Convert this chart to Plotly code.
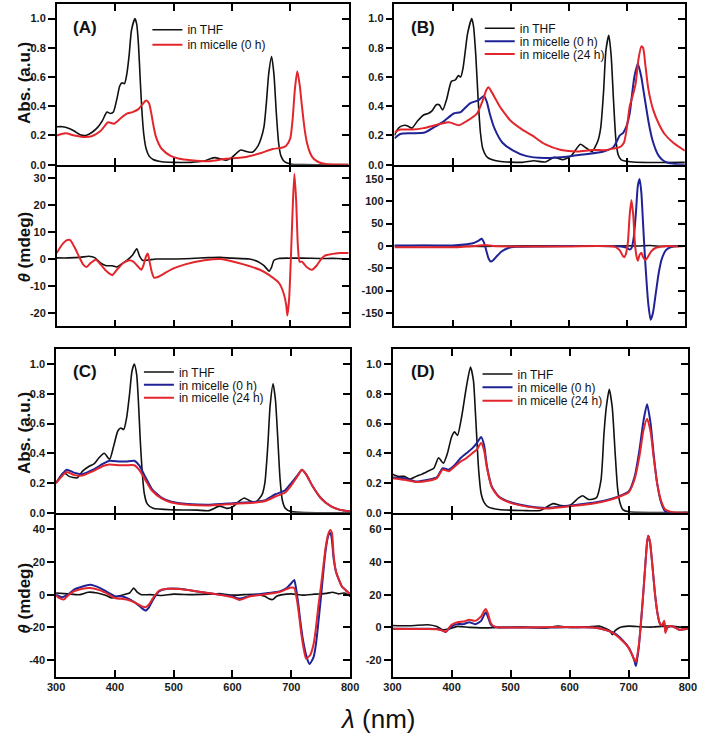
import plotly.graph_objects as go

W, H = 709, 744
BLACK = '#111111'
BLUE = '#1f2396'
RED = '#e3262b'
FONT = 'Liberation Sans, Arial, sans-serif'

# ---------------- data ----------------
wl_ticks = [300, 400, 500, 600, 700, 800]
wl_labels = ['300', '400', '500', '600', '700', '800']
abs_ticks = [0, 0.2, 0.4, 0.6, 0.8, 1.0]
abs_labels = ['0.0', '0.2', '0.4', '0.6', '0.8', '1.0']
A_cd_ticks = [-20, -10, 0, 10, 20, 30]
A_cd_labels = ['-20', '-10', '0', '10', '20', '30']
B_cd_ticks = [-150, -100, -50, 0, 50, 100, 150]
B_cd_labels = ['-150', '-100', '-50', '0', '50', '100', '150']
C_cd_ticks = [-40, -20, 0, 20, 40]
C_cd_labels = ['-40', '-20', '0', '20', '40']
D_cd_ticks = [-20, 0, 20, 40, 60]
D_cd_labels = ['-20', '0', '20', '40', '60']

# Panel A - absorbance
A_abs_thf_wl = [300, 310, 320, 330, 340, 350, 360, 370, 378, 386, 392, 397, 403, 408, 412, 416, 420, 424, 428, 434,
                437, 440, 443, 446, 449, 453, 458, 465, 480, 500, 530, 550, 570, 580, 590, 600, 615, 625, 635, 645,
                650, 655, 659, 663, 668, 672, 676, 680, 684, 690, 700, 720, 800]
A_abs_thf = [0.26, 0.26, 0.25, 0.23, 0.205, 0.20, 0.22, 0.255, 0.30, 0.36, 0.35, 0.36, 0.45, 0.54, 0.56, 0.555,
             0.62, 0.75, 0.92, 1.0, 0.96, 0.82, 0.58, 0.36, 0.21, 0.11, 0.06, 0.035, 0.02, 0.016, 0.016, 0.023,
             0.048, 0.04, 0.03, 0.05, 0.10, 0.09, 0.085, 0.13, 0.18, 0.26, 0.42, 0.62, 0.74, 0.62, 0.36, 0.15,
             0.06, 0.02, 0.005, 0.0, 0.0]
A_abs_m0_wl = [300, 315, 330, 345, 360, 375, 388, 398, 410, 420, 430, 440, 447, 453, 458, 462, 466, 470, 475, 480,
               495, 510, 530, 560, 590, 620, 650, 670, 685, 693, 700, 704, 708, 712, 716, 720, 724, 728, 734, 740,
               750, 760, 800]
A_abs_m0 = [0.20, 0.215, 0.20, 0.19, 0.195, 0.23, 0.29, 0.28, 0.32, 0.35, 0.36, 0.38, 0.415, 0.44, 0.42, 0.35,
            0.26, 0.19, 0.14, 0.107, 0.06, 0.04, 0.03, 0.023, 0.04, 0.05, 0.08, 0.107, 0.116, 0.13, 0.18, 0.31,
            0.52, 0.64, 0.55, 0.40, 0.26, 0.16, 0.08, 0.04, 0.015, 0.005, 0.0]

# Panel A - CD
A_cd_thf_wl = [300, 320, 340, 355, 365, 375, 385, 395, 403, 410, 420, 430, 437, 442, 447, 470, 500, 530, 560, 580,
               600, 630, 645, 655, 664, 668, 672, 680, 700, 720, 750, 780, 800]
A_cd_thf = [0.4, 0.4, 0.6, 1.0, 0.5, -1.5, -2.5, -2.5, -3.0, -2.0, -0.5, 1.5, 3.8, 1.0, -0.5, 0.0, 0.0, 0.2, 0.5,
            0.6, 0.3, 0.0, -1.0, -2.5, -4.5, -3.0, -0.5, 0.2, 0.3, 0.3, 0.2, 0.2, 0.0]
A_cd_m0_wl = [300, 308, 316, 323, 330, 338, 345, 351, 358, 367, 375, 385, 395, 403, 414, 425, 431, 438, 445, 449,
              453, 456, 459, 463, 467, 475, 487, 500, 520, 553, 581, 603, 620, 648, 664, 681, 689, 693, 695, 698,
              701, 704, 707, 710, 713, 716, 720, 728, 737, 745, 753, 760, 770, 785, 800]
A_cd_m0 = [2.2, 5.0, 6.8, 7.0, 4.5, 1.0, -2.0, -3.0, -1.5, -0.3, -2.0, -4.5, -6.0, -4.0, -1.5, -0.5, -1.0, -2.5,
           -4.0, -2.0, 1.0, 2.0, -1.0, -5.0, -7.0, -6.5, -5.0, -3.5, -2.0, -0.5, 0.0, -1.0, -2.0, -4.0, -6.0,
           -9.0, -13.0, -17.0, -21.0, -15.0, 0.0, 18.0, 31.6, 22.0, 5.0, -1.0, -1.0, -3.0, -4.0, -2.5, 0.0, 1.3,
           1.8, 2.2, 2.2]

# Panel B - absorbance
B_abs_thf_wl = [300, 305, 310, 318, 325, 330, 340, 350, 358, 365, 372, 377, 383, 390, 398, 405, 410, 414, 418, 422,
                426, 433, 436, 440, 444, 448, 452, 460, 480, 520, 540, 560, 575, 590, 605, 620, 630, 640, 650, 655,
                660, 664, 669, 673, 677, 681, 685, 690, 710, 800]
B_abs_thf = [0.20, 0.24, 0.26, 0.27, 0.26, 0.25, 0.30, 0.34, 0.35, 0.37, 0.41, 0.41, 0.375, 0.45, 0.57, 0.58, 0.61,
             0.60, 0.66, 0.78, 0.90, 1.0, 0.95, 0.75, 0.45, 0.22, 0.11, 0.05, 0.023, 0.016, 0.027, 0.018, 0.05,
             0.034, 0.064, 0.14, 0.114, 0.09, 0.16, 0.25, 0.50, 0.78, 0.886, 0.75, 0.45, 0.18, 0.07, 0.035, 0.018,
             0.016]
B_abs_m0_wl = [300, 310, 330, 352, 370, 386, 402, 414, 430, 444, 454, 459, 464, 472, 486, 503, 526, 559, 587, 626,
               660, 677, 688, 694, 700, 705, 709, 713, 719, 725, 729, 733, 738, 744, 750, 755, 762, 769, 783, 800]
B_abs_m0 = [0.18, 0.21, 0.215, 0.22, 0.26, 0.30, 0.35, 0.36, 0.42, 0.44, 0.47, 0.43, 0.35, 0.25, 0.15, 0.10, 0.06,
            0.045, 0.05, 0.07, 0.09, 0.12, 0.20, 0.22, 0.27, 0.35, 0.48, 0.60, 0.69, 0.60, 0.50, 0.40, 0.28, 0.17,
            0.10, 0.06, 0.03, 0.015, 0.005, 0.0]
B_abs_m24_wl = [300, 310, 330, 350, 370, 380, 394, 411, 425, 442, 452, 458, 462, 467, 474, 481, 490, 500, 520, 537,
                559, 587, 615, 640, 665, 677, 688, 695, 700, 705, 710, 715, 720, 725, 728, 732, 737, 745, 755, 765,
                780, 800]
B_abs_m24 = [0.22, 0.24, 0.24, 0.25, 0.27, 0.28, 0.29, 0.27, 0.30, 0.35, 0.44, 0.51, 0.53, 0.50, 0.45, 0.40, 0.35,
             0.30, 0.24, 0.20, 0.14, 0.10, 0.09, 0.10, 0.10, 0.11, 0.12, 0.15, 0.25, 0.40, 0.47, 0.55, 0.72, 0.81,
             0.80, 0.68, 0.52, 0.38, 0.28, 0.21, 0.15, 0.095]

# Panel B - CD
B_cd_thf_wl = [300, 350, 400, 450, 500, 550, 600, 650, 700, 720, 740, 760, 780, 800]
B_cd_thf = [0, 1, 0, -1, 0, 0.5, 0, -0.5, 0.5, 0, 1, -1, 0, 0]
B_cd_m0_wl = [300, 350, 400, 420, 435, 445, 450, 454, 458, 462, 466, 470, 477, 485, 495, 510, 550, 650, 690, 700,
              705, 708, 712, 716, 719, 722, 725, 728, 731, 734, 737, 741, 745, 750, 755, 760, 767, 775, 790, 800]
B_cd_m0 = [1, 1, 1, 3, 6, 12, 16, 8, -10, -28, -35, -32, -22, -12, -5, -2, -1, 0, -1, -4, -8, -5, 20, 80, 135,
           150, 120, 50, -20, -80, -130, -165, -150, -105, -60, -30, -10, -3, 0, 0]
B_cd_m24_wl = [300, 350, 400, 440, 455, 470, 500, 600, 680, 688, 693, 696, 699, 702, 705, 708, 711, 714, 717, 719,
               722, 725, 728, 732, 736, 742, 750, 760, 770, 785, 800]
B_cd_m24 = [-3, -3, -3, 0, 2, 0, -1, -1, -2, -10, -22, -25, -15, 10, 70, 103, 70, 5, -25, -33, -20, -15, -25, -32,
            -25, -12, -4, -1, 0, -1, 0]

# Panel C - absorbance
C_abs_thf_wl = [300, 310, 314, 322, 336, 345, 355, 365, 373, 382, 391, 398, 405, 410, 415, 420, 425, 429, 433, 437,
                440, 443, 446, 450, 455, 465, 500, 540, 560, 578, 590, 600, 612, 620, 630, 640, 650, 655, 660, 664,
                669, 673, 677, 681, 685, 690, 700, 800]
C_abs_thf = [0.20, 0.26, 0.27, 0.245, 0.235, 0.28, 0.31, 0.33, 0.37, 0.40, 0.36, 0.45, 0.55, 0.57, 0.56, 0.64,
             0.80, 0.95, 1.0, 0.93, 0.75, 0.50, 0.30, 0.13, 0.06, 0.03, 0.02, 0.018, 0.015, 0.045, 0.03, 0.04,
             0.08, 0.10, 0.08, 0.075, 0.12, 0.20, 0.45, 0.72, 0.867, 0.76, 0.50, 0.22, 0.08, 0.03, 0.008, 0.0]
C_abs_m0_wl = [300, 318, 330, 344, 363, 380, 391, 408, 419, 433, 441, 452, 463, 480, 496, 524, 562, 601, 640, 656,
               673, 689, 700, 712, 718, 725, 736, 750, 767, 783, 800]
C_abs_m0 = [0.20, 0.29, 0.27, 0.26, 0.29, 0.33, 0.35, 0.345, 0.345, 0.35, 0.32, 0.24, 0.16, 0.10, 0.075, 0.06,
            0.055, 0.065, 0.075, 0.085, 0.125, 0.15, 0.20, 0.26, 0.29, 0.26, 0.18, 0.10, 0.045, 0.02, 0.01]
C_abs_m24_wl = [300, 318, 330, 344, 363, 380, 391, 408, 419, 433, 441, 452, 463, 480, 496, 524, 562, 601, 640, 656,
                673, 689, 700, 712, 718, 725, 736, 750, 767, 783, 800]
C_abs_m24 = [0.20, 0.275, 0.255, 0.25, 0.28, 0.315, 0.325, 0.32, 0.32, 0.32, 0.29, 0.22, 0.15, 0.095, 0.07, 0.055,
             0.05, 0.06, 0.07, 0.08, 0.11, 0.135, 0.185, 0.255, 0.29, 0.26, 0.18, 0.10, 0.045, 0.02, 0.01]

# Panel C - CD
C_cd_thf_wl = [300, 320, 340, 355, 370, 385, 395, 405, 415, 425, 432, 438, 445, 460, 480, 500, 530, 560, 580, 600,
               620, 640, 655, 662, 668, 675, 685, 700, 720, 740, 760, 770, 780, 790, 800]
C_cd_thf = [1, 0.5, 0, 1.5, 1, -0.5, -2, -1, 0, 1, 4, 1.5, 0, 0, -0.5, 0.3, 0, 0.3, 0.6, -0.3, 0, 0.2, -1, -2.5,
            -3, -1, 0, 0.5, -0.3, 0.3, 0.8, 1.5, 0.5, 1, -1]
C_cd_m0_wl = [300, 310, 320, 330, 345, 358, 375, 390, 400, 410, 420, 435, 445, 452, 458, 465, 475, 490, 510, 540,
              570, 600, 612, 630, 660, 680, 692, 700, 705, 708, 712, 716, 720, 726, 731, 738, 742, 746, 750, 754,
              758, 762, 765, 768, 772, 776, 780, 786, 792, 800]
C_cd_m0 = [0, -1.6, 0, 3, 5, 6, 4, 1, -1, -1, -2, -5, -8, -9.7, -7.7, -3, 2, 3.6, 3.6, 2, 0.4, -1, -2.4, -0.6, 1,
           2, 4, 7, 9, 4, -6, -18, -28, -38, -42.4, -38, -30, -17, -3, 12, 26, 35, 38, 36, 22, 14, 10, 5, 3, 0]
C_cd_m24_wl = [300, 305, 313, 320, 330, 345, 358, 375, 390, 400, 420, 435, 445, 452, 458, 465, 475, 490, 510, 540,
               570, 600, 612, 630, 660, 680, 692, 700, 705, 709, 713, 717, 721, 725, 729, 732, 738, 742, 746, 750,
               754, 758, 762, 766, 769, 772, 776, 780, 786, 792, 800]
C_cd_m24 = [-0.4, -2, -3, -0.6, 2, 3.6, 4, 2.6, 0, -2, -3, -5, -7, -7.7, -6, -2, 2.4, 3.6, 3.4, 2, 0.4, -1.6,
            -3.2, -1, 0.4, 1.6, 3.4, 4.4, 4, -2, -12, -24, -33, -39, -38, -37, -30, -20, -7, 4, 16, 28, 36, 39.5,
            38, 24, 14, 10, 5, 3, 0]

# Panel D - absorbance
D_abs_thf_wl = [300, 310, 320, 330, 340, 350, 360, 370, 378, 386, 393, 400, 405, 410, 417, 425, 432, 437, 440, 443,
                446, 450, 455, 462, 480, 520, 550, 572, 585, 600, 615, 622, 632, 645, 653, 658, 662, 667, 672, 677,
                681, 685, 690, 700, 800]
D_abs_thf = [0.26, 0.245, 0.245, 0.227, 0.245, 0.26, 0.28, 0.30, 0.37, 0.333, 0.40, 0.51, 0.544, 0.52, 0.644,
             0.844, 0.98, 0.89, 0.70, 0.48, 0.28, 0.13, 0.07, 0.04, 0.022, 0.016, 0.016, 0.062, 0.049, 0.049, 0.10,
             0.115, 0.09, 0.10, 0.22, 0.53, 0.71, 0.83, 0.71, 0.40, 0.17, 0.07, 0.022, 0.007, 0.004]
D_abs_m0_wl = [300, 320, 340, 360, 375, 385, 395, 405, 415, 425, 435, 443, 450, 455, 460, 468, 480, 500, 530, 560,
               600, 640, 670, 690, 700, 710, 718, 725, 731, 737, 742, 748, 755, 762, 770, 800]
D_abs_m0 = [0.238, 0.233, 0.21, 0.222, 0.238, 0.30, 0.29, 0.32, 0.367, 0.40, 0.433, 0.47, 0.51, 0.456, 0.31,
            0.178, 0.11, 0.071, 0.044, 0.033, 0.049, 0.067, 0.093, 0.122, 0.144, 0.244, 0.42, 0.62, 0.73, 0.60,
            0.40, 0.20, 0.067, 0.009, 0.0, 0.0]
D_abs_m24_wl = [300, 320, 340, 360, 375, 385, 395, 405, 415, 425, 435, 443, 450, 455, 460, 468, 480, 500, 530, 560,
                600, 640, 670, 690, 700, 710, 718, 725, 731, 737, 742, 748, 755, 762, 775, 800]
D_abs_m24 = [0.233, 0.222, 0.207, 0.215, 0.233, 0.29, 0.28, 0.31, 0.344, 0.367, 0.40, 0.427, 0.47, 0.42, 0.30,
             0.173, 0.107, 0.067, 0.04, 0.029, 0.044, 0.062, 0.089, 0.118, 0.138, 0.227, 0.378, 0.556, 0.633,
             0.544, 0.378, 0.20, 0.078, 0.022, 0.004, 0.0]

# Panel D - CD
D_cd_thf_wl = [300, 330, 360, 375, 385, 395, 410, 430, 450, 480, 520, 560, 580, 600, 630, 650, 660, 668, 672, 677,
               685, 700, 720, 740, 760, 780, 800]
D_cd_thf = [1.2, 1, 1.6, 0.5, -1.4, -1, 0.6, 0, -0.3, 0, 0.2, -0.3, 0.8, 0, 0.3, 0.8, -0.5, -2, -4.4, -2, 0, 0.8,
            0.4, 0.2, 0.8, 0.5, -0.5]
D_cd_m0_wl = [300, 330, 360, 375, 385, 390, 395, 400, 410, 420, 430, 440, 450, 455, 458, 462, 466, 470, 480, 520,
              580, 640, 660, 675, 690, 700, 706, 710, 712, 714, 717, 720, 724, 728, 731, 733, 736, 740, 744, 748,
              752, 756, 760, 762, 766, 775, 785, 800]
D_cd_m0 = [-0.8, -0.8, -0.8, -1, -2, -2.8, -1, 0.6, 2, 2, 3.2, 2, 4, 7.5, 9.3, 6, 2, 0.6, 0, 0, 0, 0, -1.4, -3.4,
           -8, -12.5, -17, -21, -23.6, -20, -12, 0, 18, 38, 52, 56, 52, 38, 22, 10, 3, 1, 3, -2, 0, 0.6, -1.4,
           -0.8]
D_cd_m24_wl = [300, 330, 360, 375, 385, 390, 395, 400, 410, 420, 430, 440, 450, 455, 458, 462, 466, 470, 480, 520,
               580, 640, 660, 675, 690, 700, 706, 710, 712, 714, 717, 720, 724, 728, 731, 733, 736, 740, 744, 748,
               752, 756, 760, 762, 766, 775, 785, 800]
D_cd_m24 = [-0.8, -1, -1, -1.2, -2, -2.8, -0.5, 1.6, 3.2, 3.6, 4.6, 4, 6.7, 10, 11.3, 8, 3, 1, 0, 0, 0.3, 0, -1.4,
            -3.8, -8.5, -12.5, -17, -20, -21, -18, -11, 0, 18, 38, 52, 56, 52, 38, 22, 10, 3, 1.2, 4, -3.4, 0.5,
            0.6, -1.4, -0.5]

series_names = ['in THF', 'in micelle (0 h)', 'in micelle (24 h)']

# ---------------- layout geometry (pixels) ----------------
def xdom(a, b):
    return [a / W, b / W]


def ydom(top, bottom):
    return [1 - bottom / H, 1 - top / H]


subplots = {
    1: dict(x=xdom(49, 348.5), y=ydom(4, 166), rng=[0, 1.1], tv=abs_ticks, tt=abs_labels),
    2: dict(x=xdom(49, 348.5), y=ydom(166, 329), rng=[-25, 35], tv=A_cd_ticks, tt=A_cd_labels),
    3: dict(x=xdom(395.5, 693.5), y=ydom(4, 166), rng=[0, 1.1], tv=abs_ticks, tt=abs_labels),
    4: dict(x=xdom(395.5, 693.5), y=ydom(166, 329), rng=[-180, 182], tv=B_cd_ticks, tt=B_cd_labels),
    5: dict(x=xdom(48.3, 350), y=ydom(352, 517), rng=[0, 1.1], tv=abs_ticks, tt=abs_labels),
    6: dict(x=xdom(48.3, 350), y=ydom(517, 682), rng=[-50, 50], tv=C_cd_ticks, tt=C_cd_labels),
    7: dict(x=xdom(393.5, 696.5), y=ydom(352, 517), rng=[0, 1.1], tv=abs_ticks, tt=abs_labels),
    8: dict(x=xdom(393.5, 696.5), y=ydom(517, 682), rng=[-30, 70], tv=D_cd_ticks, tt=D_cd_labels),
}
CD_SUBPLOTS = (2, 4, 6, 8)

# legend rows: (legend id, text-start x px, row centre y px)
LEG_DY = 4.5
legend_rows = {
    'legend': (177, 25.5), 'legend2': (177, 40.5),
    'legend3': (518, 24), 'legend4': (518, 37), 'legend5': (518, 50),
    'legend6': (168.3, 370.5), 'legend7': (168.3, 383.5), 'legend8': (168.3, 396.5),
    'legend9': (515.7, 372.5), 'legend10': (515.7, 386), 'legend11': (515.7, 399.5),
}

traces_spec = [
    (1, A_abs_thf_wl, A_abs_thf, 0, BLACK, 'legend'),
    (1, A_abs_m0_wl, A_abs_m0, 1, RED, 'legend2'),
    (2, A_cd_thf_wl, A_cd_thf, 0, BLACK, None),
    (2, A_cd_m0_wl, A_cd_m0, 1, RED, None),
    (3, B_abs_thf_wl, B_abs_thf, 0, BLACK, 'legend3'),
    (3, B_abs_m0_wl, B_abs_m0, 1, BLUE, 'legend4'),
    (3, B_abs_m24_wl, B_abs_m24, 2, RED, 'legend5'),
    (4, B_cd_thf_wl, B_cd_thf, 0, BLACK, None),
    (4, B_cd_m0_wl, B_cd_m0, 1, BLUE, None),
    (4, B_cd_m24_wl, B_cd_m24, 2, RED, None),
    (5, C_abs_thf_wl, C_abs_thf, 0, BLACK, 'legend6'),
    (5, C_abs_m0_wl, C_abs_m0, 1, BLUE, 'legend7'),
    (5, C_abs_m24_wl, C_abs_m24, 2, RED, 'legend8'),
    (6, C_cd_thf_wl, C_cd_thf, 0, BLACK, None),
    (6, C_cd_m0_wl, C_cd_m0, 1, BLUE, None),
    (6, C_cd_m24_wl, C_cd_m24, 2, RED, None),
    (7, D_abs_thf_wl, D_abs_thf, 0, BLACK, 'legend9'),
    (7, D_abs_m0_wl, D_abs_m0, 1, BLUE, 'legend10'),
    (7, D_abs_m24_wl, D_abs_m24, 2, RED, 'legend11'),
    (8, D_cd_thf_wl, D_cd_thf, 0, BLACK, None),
    (8, D_cd_m0_wl, D_cd_m0, 1, BLUE, None),
    (8, D_cd_m24_wl, D_cd_m24, 2, RED, None),
]

fig = go.Figure()


def ax_id(prefix, n):
    return prefix if n == 1 else f'{prefix}{n}'


for sp, xs, ys, si, col, leg in traces_spec:
    kw = dict(x=xs, y=ys, mode='lines', name=series_names[si],
              line=dict(color=col, width=1.6 if col == BLACK else 2.0, shape='spline', smoothing=0.6),
              xaxis=ax_id('x', sp), yaxis=ax_id('y', sp), hoverinfo='skip')
    if leg:
        kw['legend'] = leg
        kw['showlegend'] = True
    else:
        kw['showlegend'] = False
    fig.add_trace(go.Scatter(**kw))

# empty helper traces so the extra tick-only axes get drawn
for sp in subplots:
    fig.add_trace(go.Scatter(x=[None], y=[None], xaxis=ax_id('x', sp), yaxis=ax_id('y', 8 + sp),
                             showlegend=False, hoverinfo='skip'))
for sp in CD_SUBPLOTS:
    fig.add_trace(go.Scatter(x=[None], y=[None], xaxis=ax_id('x', 10 + sp), yaxis=ax_id('y', sp),
                             showlegend=False, hoverinfo='skip'))

tickfont = dict(family=FONT, size=11, color='#1a1a1a', weight='bold')
layout = dict(width=W, height=H, margin=dict(l=0, r=0, t=0, b=0),
              paper_bgcolor='white', plot_bgcolor='white', showlegend=True)

for sp, g in subplots.items():
    xa = 'xaxis' if sp == 1 else f'xaxis{sp}'
    ya = 'yaxis' if sp == 1 else f'yaxis{sp}'
    is_cd = sp in CD_SUBPLOTS
    layout[xa] = dict(domain=g['x'], anchor=ax_id('y', sp), range=[300, 800], tickvals=wl_ticks,
                      ticktext=wl_labels, showticklabels=sp in (6, 8), ticks='inside', ticklen=7, tickwidth=1.5,
                      tickcolor='black', showline=True, linecolor='black', linewidth=1.5,
                      mirror=False if is_cd else 'ticks',
                      showgrid=False, zeroline=False, tickfont=tickfont, fixedrange=True)
    layout[ya] = dict(domain=g['y'], anchor=ax_id('x', sp), range=g['rng'], tickvals=g['tv'], ticktext=g['tt'],
                      ticks='outside', ticklen=7, tickwidth=1.5, tickcolor='black', showline=True,
                      linecolor='black', linewidth=1.5, mirror=True, showgrid=False, zeroline=False,
                      tickfont=tickfont, fixedrange=True)
    layout[f'yaxis{8 + sp}'] = dict(overlaying=ax_id('y', sp), anchor=ax_id('x', sp), side='right',
                                    range=g['rng'], tickvals=g['tv'], ticks='inside', ticklen=7, tickwidth=1.5,
                                    tickcolor='black', showticklabels=False, showline=False, showgrid=False,
                                    zeroline=False, fixedrange=True)
    if is_cd:
        layout[f'xaxis{10 + sp}'] = dict(overlaying=ax_id('x', sp), anchor=ax_id('y', sp), side='top',
                                         range=[300, 800], tickvals=wl_ticks, ticks='inside', ticklen=7,
                                         tickwidth=1.5, tickcolor='black', showticklabels=False,
                                         showline=False, showgrid=False, zeroline=False, fixedrange=True)

legfont = dict(family=FONT, size=12, color='#111111')
for lid, (tx, ty) in legend_rows.items():
    layout[lid] = dict(x=(tx - 35) / W, y=1 - (ty + LEG_DY) / H, xanchor='left', yanchor='middle',
                       bgcolor='rgba(0,0,0,0)', borderwidth=0, font=legfont, itemwidth=30)

ann = []


def add_text(txt, px, py, size, angle=0, bold=True):
    ann.append(dict(text=txt, x=px / W, y=1 - py / H, xref='paper', yref='paper', showarrow=False,
                    xanchor='center', yanchor='middle', textangle=angle,
                    font=dict(family=FONT, size=size, color='#111111', weight='bold' if bold else 'normal')))


add_text('(A)', 78, 28, 17)
add_text('(B)', 425, 28, 17)
add_text('(C)', 78, 375, 17)
add_text('(D)', 425, 375, 17)
add_text('Abs. (a.u.)', 16, 84, 17, -90)
add_text('<i>θ</i> (mdeg)', 16, 249, 17, -90)
add_text('Abs. (a.u.)', 16, 437, 17, -90)
add_text('<i>θ</i> (mdeg)', 16, 603, 17, -90)
add_text('<i>λ</i> (nm)', 378, 725, 26, 0, bold=False)
layout['annotations'] = ann

fig.update_layout(**layout)
fig.write_html('out.html')
